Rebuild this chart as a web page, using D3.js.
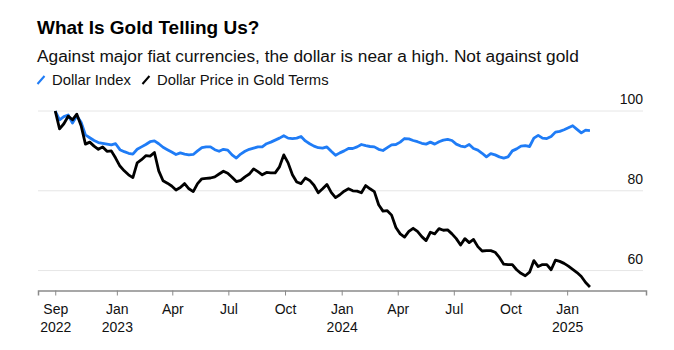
<!DOCTYPE html>
<html lang="en">
<head>
<meta charset="utf-8">
<title>What Is Gold Telling Us?</title>
<script src="https://d3js.org/d3.v7.min.js"></script>
<style>
    body { margin: 0; background: #fff; }
    svg { font-family: "Liberation Sans", Arial, sans-serif; }
    .title { font-size: 19px; font-weight: bold; fill: #000; }
    .subtitle { font-size: 17.3px; fill: #111; }
    .legend { font-size: 14.8px; fill: #111; }
    .tick-label { font-size: 14px; fill: #111; }
</style>
</head>
<body>
<script>
// weekly closes, both indexed to 100 at the start
const weeks = [
    "2022-09-23","2022-09-30","2022-10-07","2022-10-14","2022-10-21","2022-10-28","2022-11-04","2022-11-11","2022-11-18","2022-11-25",
    "2022-12-02","2022-12-09","2022-12-16","2022-12-23","2022-12-30","2023-01-06","2023-01-13","2023-01-20","2023-01-27","2023-02-03",
    "2023-02-10","2023-02-17","2023-02-24","2023-03-03","2023-03-10","2023-03-17","2023-03-24","2023-03-31","2023-04-07","2023-04-14",
    "2023-04-21","2023-04-28","2023-05-05","2023-05-12","2023-05-19","2023-05-26","2023-06-02","2023-06-09","2023-06-16","2023-06-23",
    "2023-06-30","2023-07-07","2023-07-14","2023-07-21","2023-07-28","2023-08-04","2023-08-11","2023-08-18","2023-08-25","2023-09-01",
    "2023-09-08","2023-09-15","2023-09-22","2023-09-29","2023-10-06","2023-10-13","2023-10-20","2023-10-27","2023-11-03","2023-11-10",
    "2023-11-17","2023-11-24","2023-12-01","2023-12-08","2023-12-15","2023-12-22","2023-12-29","2024-01-05","2024-01-12","2024-01-19",
    "2024-01-26","2024-02-02","2024-02-09","2024-02-16","2024-02-23","2024-03-01","2024-03-08","2024-03-15","2024-03-22","2024-03-29",
    "2024-04-05","2024-04-12","2024-04-19","2024-04-26","2024-05-03","2024-05-10","2024-05-17","2024-05-24","2024-05-31","2024-06-07",
    "2024-06-14","2024-06-21","2024-06-28","2024-07-05","2024-07-12","2024-07-19","2024-07-26","2024-08-02","2024-08-09","2024-08-16",
    "2024-08-23","2024-08-30","2024-09-06","2024-09-13","2024-09-20","2024-09-27","2024-10-04","2024-10-11","2024-10-18","2024-10-25",
    "2024-11-01","2024-11-08","2024-11-15","2024-11-22","2024-11-29","2024-12-06","2024-12-13","2024-12-20","2024-12-27","2025-01-03",
    "2025-01-10","2025-01-17","2025-01-24","2025-01-31","2025-02-07"
];

const dollarIndex = [
    100, 97.8, 98.6, 99.0, 97.0, 98.8, 97.2, 94.0, 93.3, 92.6,
    92.1, 91.9, 91.7, 91.5, 91.8, 90.3, 89.8, 89.4, 89.2, 90.4,
    91.0, 91.6, 92.3, 92.5, 91.8, 90.9, 90.3, 89.7, 89.1, 89.5,
    89.2, 89.0, 89.1, 90.0, 90.8, 91.0, 91.0, 90.3, 89.9, 90.4,
    90.2, 89.0, 88.2, 89.2, 89.9, 90.4, 90.7, 91.0, 91.0, 91.8,
    92.2, 92.7, 93.2, 93.8, 93.2, 93.1, 93.2, 93.6, 92.5, 91.8,
    91.2, 90.8, 90.7, 91.0, 89.9, 88.9, 89.5, 90.0, 90.6, 90.6,
    91.0, 91.6, 91.3, 91.1, 91.0, 90.4, 90.1, 90.8, 91.5, 91.6,
    92.2, 93.1, 93.0, 92.6, 92.3, 91.9, 91.7, 92.2, 91.7, 92.3,
    92.7, 92.9, 92.6, 91.7, 91.2, 91.0, 91.6, 90.6, 90.2, 89.4,
    88.5, 89.3, 89.0, 88.5, 88.2, 88.5, 90.0, 90.5, 91.2, 91.3,
    91.1, 93.2, 93.9, 93.2, 93.1, 93.6, 94.7, 94.9, 95.3, 95.8,
    96.3, 95.4, 94.5, 95.2, 95.1
];

const dollarInGold = [
    100, 95.5, 96.8, 98.7, 97.8, 99.2, 96.3, 91.7, 92.2, 91.2,
    90.4, 91.0, 89.9, 90.0, 88.2, 86.2, 85.0, 84.0, 83.3, 87.0,
    87.8, 88.8, 88.7, 89.6, 85.0, 82.5, 81.9, 81.2, 80.2, 80.8,
    81.8, 80.5, 79.8, 81.8, 83.0, 83.1, 83.2, 83.5, 84.2, 84.9,
    84.4, 83.4, 82.3, 82.6, 83.5, 84.2, 85.5, 84.8, 84.0, 84.6,
    84.5, 84.5, 86.0, 89.0, 87.0, 84.0, 82.2, 81.8, 83.2, 82.6,
    81.4, 79.5, 80.5, 81.6, 79.6, 78.3, 79.0, 79.9, 80.5, 80.0,
    79.9, 79.5, 81.3, 80.5, 79.8, 76.5, 74.9, 75.0, 73.9, 70.8,
    69.2, 68.4, 69.8, 70.6, 69.8, 68.5, 67.5, 69.6, 69.2, 70.5,
    70.1, 70.2, 69.2, 68.0, 66.4, 68.0, 67.0, 67.8, 66.0, 64.9,
    65.0, 65.0, 64.6, 63.3, 61.6, 61.5, 61.5, 60.2, 59.3, 58.7,
    59.6, 62.5, 61.0, 61.5, 61.5, 60.2, 62.6, 62.3, 61.8, 61.1,
    60.3, 59.5, 58.5, 57.0, 55.9
];

const seriesNames = ["Dollar Index", "Dollar Price in Gold Terms"];
const seriesColors = ["#1f7cf6", "#000000"];
const yTicks = [60, 80, 100];
const xTicks = ["2022-09-23","2023-01-01","2023-04-01","2023-07-01","2023-10-01",
                "2024-01-01","2024-04-01","2024-07-01","2024-10-01","2025-01-01"];

const width = 674, height = 350;
const parse = d3.timeParse("%Y-%m-%d");

const svg = d3.select("body").append("svg")
    .attr("width", width)
    .attr("height", height);

// header
svg.append("text").attr("class", "title").attr("x", 37).attr("y", 34)
    .text("What Is Gold Telling Us?");
svg.append("text").attr("class", "subtitle").attr("x", 37).attr("y", 62)
    .text("Against major fiat currencies, the dollar is near a high. Not against gold");

// legend
let lx = 37;
seriesNames.forEach((name, i) => {
    const g = svg.append("g").attr("transform", `translate(${lx},85)`);
    g.append("line").attr("x1", 0.5).attr("y1", -1).attr("x2", 7.5).attr("y2", -9)
        .attr("stroke", seriesColors[i]).attr("stroke-width", 2);
    const t = g.append("text").attr("class", "legend").attr("x", 15).attr("y", 0).text(name);
    lx += 15 + t.node().getComputedTextLength() + 11;
});

// scales
const x = d3.scaleTime()
    .domain([parse("2022-08-26"), parse("2025-05-09")])
    .range([38, 646]);
const y = d3.scaleLinear()
    .domain([55, 100])
    .range([290.5, 111]);

// gridlines + right labels
const grid = svg.append("g");
grid.selectAll("line").data(yTicks).join("line")
    .attr("x1", 38).attr("x2", 643)
    .attr("y1", d => y(d)).attr("y2", d => y(d))
    .attr("stroke", "#e6e6e6").attr("stroke-width", 1);
grid.selectAll("text").data(yTicks).join("text")
    .attr("class", "tick-label")
    .attr("x", 643).attr("y", d => y(d) - 7)
    .attr("text-anchor", "end")
    .text(d => d);

// x axis
const xAxis = d3.axisBottom(x)
    .tickValues(xTicks.map(parse))
    .tickSize(5)
    .tickFormat("");
const ax = svg.append("g")
    .attr("transform", `translate(0,${y(55)})`)
    .call(xAxis);
ax.select(".domain").attr("stroke", "#8a8a8a").attr("stroke-width", 1.5);
ax.selectAll(".tick line").attr("stroke", "#8a8a8a");

const monthFmt = d3.timeFormat("%b");
const labels = ax.selectAll(".tick");
labels.append("text")
    .attr("class", "tick-label")
    .attr("y", 23).attr("fill", "#111")
    .attr("text-anchor", "middle")
    .text(d => monthFmt(d));
labels.filter((d, i) => i === 0 || d.getMonth() === 0)
    .append("text")
    .attr("class", "tick-label")
    .attr("y", 41).attr("fill", "#111")
    .attr("text-anchor", "middle")
    .text(d => d.getFullYear());

// lines
const line = d3.line()
    .x((d, i) => x(parse(weeks[i])))
    .y(d => y(d));

[dollarIndex, dollarInGold].forEach((vals, i) => {
    svg.append("path")
        .datum(vals)
        .attr("fill", "none")
        .attr("stroke", seriesColors[i])
        .attr("stroke-width", 2.8)
        .attr("stroke-linejoin", "round")
        .attr("d", line);
});
</script>
</body>
</html>
